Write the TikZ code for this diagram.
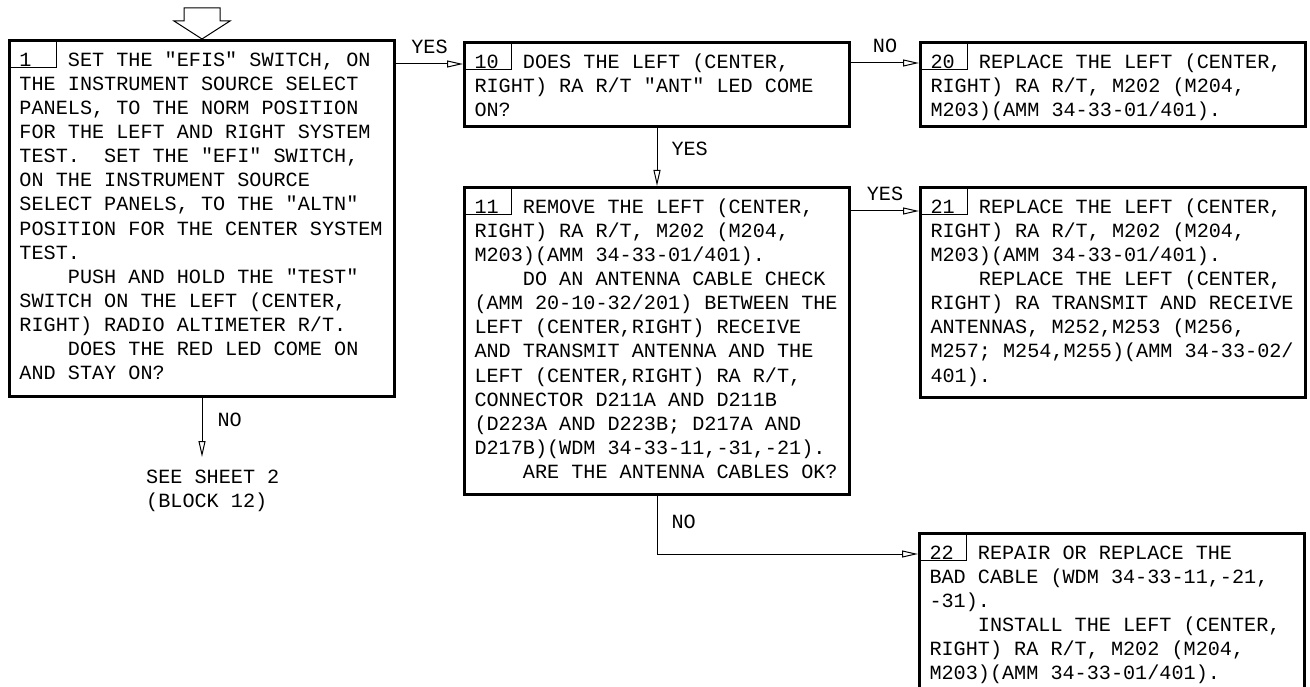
\documentclass[tikz,border=0pt]{standalone}
\usepackage{fontspec}
\setmonofont{Liberation Mono}
\usetikzlibrary{arrows.meta,positioning,calc}
\newcommand{\blkno}[1]{\rlap{#1}\hphantom{MMMM}}
\newcommand{\para}{\hphantom{MMMM}}
\newcommand{\chartfont}{\ttfamily\fontsize{20.17}{24.1}\selectfont
  \fontdimen2\font=\fontcharwd\font`M\fontdimen3\font=0pt\fontdimen4\font=0pt\frenchspacing}

\begin{document}
\begin{tikzpicture}[
    x=1pt,y=-1pt,
    font=\chartfont,
    box/.style={draw,line width=3pt,anchor=north west,align=flush left,text width=365pt,inner xsep=10pt,inner ysep=9pt,execute at begin node=\strut},
    numbox/.style={draw,line width=1pt,anchor=north west,minimum width=48pt,minimum height=28pt,inner sep=0pt},
    arr/.style={-{Triangle[open,length=16pt,width=7pt]},line width=1pt},
    lbl/.style={inner sep=3pt}
  ]
  \useasboundingbox (0,0) rectangle (1310,687);
  \clip (0,0) rectangle (1310,687);

  \node[box,text depth=321pt] (b1) at (8,39) {\blkno{1}SET THE "EFIS" SWITCH, ON\\
    THE INSTRUMENT SOURCE SELECT\\
    PANELS, TO THE NORM POSITION\\
    FOR THE LEFT AND RIGHT SYSTEM\\
    TEST.\ \ SET THE "EFI" SWITCH,\\
    ON THE INSTRUMENT SOURCE\\
    SELECT PANELS, TO THE "ALTN"\\
    POSITION FOR THE CENTER SYSTEM\\
    TEST.\\
    \para PUSH AND HOLD THE "TEST"\\
    SWITCH ON THE LEFT (CENTER,\\
    RIGHT) RADIO ALTIMETER R/T.\\
    \para DOES THE RED LED COME ON\\
    AND STAY ON?};
  \node[box,text depth=49pt] (b10) at (463,41) {\blkno{10}DOES THE LEFT (CENTER,\\
    RIGHT) RA R/T "ANT" LED COME\\
    ON?};
  \node[box,text depth=49pt] (b20) at (919,41) {\blkno{20}REPLACE THE LEFT (CENTER,\\
    RIGHT) RA R/T, M202 (M204,\\
    M203)(AMM 34-33-01/401).};
  \node[box,text depth=272pt] (b11) at (463,186) {\blkno{11}REMOVE THE LEFT (CENTER,\\
    RIGHT) RA R/T, M202 (M204,\\
    M203)(AMM 34-33-01/401).\\
    \para DO AN ANTENNA CABLE CHECK\\
    (AMM 20-10-32/201) BETWEEN THE\\
    LEFT (CENTER,RIGHT) RECEIVE\\
    AND TRANSMIT ANTENNA AND THE\\
    LEFT (CENTER,RIGHT) RA R/T,\\
    CONNECTOR D211A AND D211B\\
    (D223A AND D223B; D217A AND\\
    D217B)(WDM 34-33-11,-31,-21).\\
    \para ARE THE ANTENNA CABLES OK?};
  \node[box,text depth=175pt] (b21) at (919,186) {\blkno{21}REPLACE THE LEFT (CENTER,\\
    RIGHT) RA R/T, M202 (M204,\\
    M203)(AMM 34-33-01/401).\\
    \para REPLACE THE LEFT (CENTER,\\
    RIGHT) RA TRANSMIT AND RECEIVE\\
    ANTENNAS, M252,M253 (M256,\\
    M257; M254,M255)(AMM 34-33-02/\\
    401).};
  \node[box,text depth=133pt] (b22) at (918,532) {\blkno{22}REPAIR OR REPLACE THE\\
    BAD CABLE (WDM 34-33-11,-21,\\
    -31).\\
    \para INSTALL THE LEFT (CENTER,\\
    RIGHT) RA R/T, M202 (M204,\\
    M203)(AMM 34-33-01/401).};

  \node[numbox] (n1) at (b1.north west) {};
  \node[numbox] (n10) at (b10.north west) {};
  \node[numbox] (n20) at (b20.north west) {};
  \node[numbox] (n11) at (b11.north west) {};
  \node[numbox] (n21) at (b21.north west) {};
  \node[numbox] (n22) at (b22.north west) {};

  \node[align=flush left,anchor=north west,inner xsep=0pt,inner ysep=13pt] (sheet) at (146,457) {SEE SHEET 2\\(BLOCK 12)};

  \draw[line width=1pt] (b1.north) -- ++(-28,-18) -- ++(10,0) -- ++(0,-13) -- ++(36,0) -- ++(0,13) -- ++(10,0) -- cycle;

  \draw[arr] ([yshift=-23pt]b10.north west -| b1.east) -- node[lbl,above=7pt] {YES} ([yshift=-23pt]b10.north west);
  \draw[arr] ([yshift=-22pt]b20.north west -| b10.east) -- node[lbl,above=7pt] {NO} ([yshift=-22pt]b20.north west);
  \draw[arr] ([yshift=-25pt]b21.north west -| b11.east) -- node[lbl,above=7pt] {YES} ([yshift=-25pt]b21.north west);
  \draw[arr] (b10.south) -- node[lbl,right=11pt,pos=0.36] {YES} (b11.north);
  \draw[arr] (b11.south) |- node[lbl,right=11pt,pos=0.22] {NO} ([yshift=-22pt]b22.north west);
  \draw[arr] (b1.south) -- node[lbl,right=12pt,pos=0.37] {NO} (b1.south |- sheet.north);
\end{tikzpicture}
\end{document}
